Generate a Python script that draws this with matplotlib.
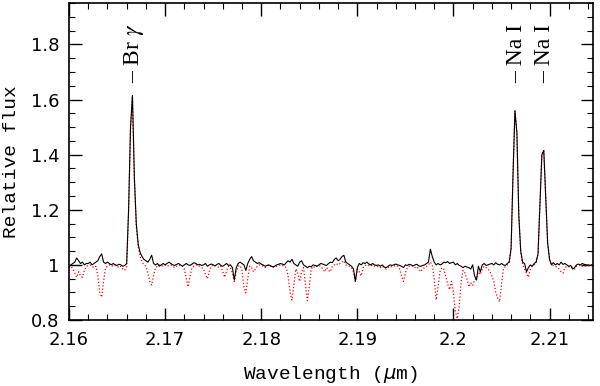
import numpy as np
import matplotlib
matplotlib.use('Agg')
import matplotlib.pyplot as plt
from matplotlib.ticker import MultipleLocator, FuncFormatter

# wavelength grid (micron), 0.0002 sampling
wl_start = 2.16
wl_step = 0.0002

# observed spectrum (black)
flux_obs = [
    0.995, 1.000, 1.005, 1.010, 1.025, 1.015, 1.005, 1.010, 1.000, 1.005,
    1.005, 1.010, 1.000, 1.005, 1.010, 1.015, 1.030, 1.040, 1.010, 1.005,
    1.010, 1.005, 1.000, 1.005, 1.000, 0.998, 1.002, 1.000, 0.995, 0.998,
    1.005, 1.200, 1.500, 1.615, 1.320, 1.150, 1.075, 1.045, 1.030, 1.020,
    1.015, 1.010, 1.020, 1.035, 1.005, 1.000, 1.005, 0.995, 1.000, 1.005,
    1.000, 1.005, 1.010, 1.005, 1.000, 0.998, 1.002, 1.005, 1.000, 0.995,
    1.000, 1.005, 1.000, 0.998, 1.003, 1.008, 1.005, 1.000, 1.002, 0.998,
    1.000, 1.005, 0.995, 1.000, 1.003, 1.000, 0.996, 1.002, 1.005, 0.998,
    0.995, 1.000, 1.005, 0.998, 1.000, 0.990, 0.945, 0.990, 1.005, 1.010,
    1.005, 1.000, 0.980, 1.005, 1.020, 1.030, 1.015, 1.010, 1.005, 1.008,
    1.003, 1.000, 0.995, 0.998, 1.000, 0.996, 0.993, 0.995, 1.000, 1.002,
    1.005, 1.003, 1.000, 1.008, 1.015, 1.010, 1.020, 1.005, 1.000, 0.995,
    1.010, 1.015, 1.000, 0.995, 0.990, 0.995, 0.993, 1.000, 0.998, 0.995,
    1.000, 1.005, 1.003, 1.000, 0.998, 1.005, 1.010, 1.008, 1.020, 1.025,
    1.015, 1.020, 1.030, 1.035, 1.010, 1.005, 1.000, 0.995, 0.985, 0.940,
    0.990, 1.005, 1.000, 1.008, 1.005, 1.010, 1.003, 1.000, 1.005, 1.000,
    0.998, 1.000, 0.995, 1.000, 0.992, 0.990, 0.995, 1.000, 0.998, 1.000,
    1.003, 1.000, 0.998, 0.995, 0.990, 1.000, 0.998, 1.002, 1.000, 0.996,
    1.000, 1.002, 0.996, 0.995, 0.998, 1.000, 1.005, 1.010, 1.057, 1.030,
    1.010, 1.000, 1.005, 1.000, 1.003, 1.010, 1.008, 1.012, 1.005, 1.008,
    1.010, 1.000, 1.005, 0.998, 0.995, 0.990, 0.995, 0.992, 0.990, 0.985,
    1.000, 0.960, 0.945, 0.995, 0.975, 1.000, 1.005, 0.998, 1.000, 1.003,
    1.005, 1.000, 1.008, 1.002, 1.000, 1.005, 1.000, 0.998, 1.005, 1.010,
    1.060, 1.330, 1.560, 1.480, 1.180, 1.050, 1.010, 1.005, 0.975, 0.990,
    1.000, 0.995, 1.005, 1.010, 1.040, 1.220, 1.400, 1.415, 1.250, 1.080,
    1.020, 1.000, 1.008, 1.000, 1.005, 1.000, 1.010, 1.002, 1.005, 1.000,
    0.995, 0.998, 0.985, 0.990, 1.000, 1.003, 1.000, 1.005, 1.002, 1.000,
    1.000, 0.998, 1.000,
]

# comparison spectrum (red dotted)
flux_cmp = [
    0.990, 0.995, 0.985, 0.970, 0.955, 0.975, 0.960, 0.955, 0.980, 0.995,
    0.998, 1.000, 0.995, 0.990, 0.995, 0.960, 0.900, 0.883, 0.940, 0.990,
    0.995, 1.000, 0.998, 0.995, 1.000, 0.995, 0.990, 0.995, 0.985, 0.980,
    0.995, 1.190, 1.490, 1.610, 1.310, 1.140, 1.065, 1.030, 1.010, 1.000,
    0.995, 0.970, 0.940, 0.927, 0.960, 0.990, 0.995, 1.000, 0.995, 0.998,
    1.000, 0.995, 0.998, 1.000, 0.995, 0.990, 0.995, 0.998, 1.000, 0.995,
    0.985, 0.950, 0.920, 0.960, 0.990, 0.995, 1.000, 0.998, 0.995, 0.990,
    0.985, 0.965, 0.950, 0.975, 0.995, 1.000, 0.998, 0.995, 0.990, 0.995,
    0.975, 0.955, 0.980, 0.995, 0.990, 0.970, 0.940, 0.975, 0.995, 0.998,
    0.980, 0.920, 0.898, 0.950, 0.995, 0.990, 0.975, 0.985, 0.995, 1.000,
    0.998, 0.995, 0.990, 0.995, 1.000, 0.995, 0.990, 0.993, 0.995, 0.998,
    1.000, 0.998, 0.995, 0.990, 0.960, 0.900, 0.872, 0.930, 0.985, 0.970,
    0.940, 0.975, 0.990, 0.930, 0.870, 0.920, 0.985, 0.995, 0.990, 0.995,
    0.998, 0.995, 0.985, 0.975, 0.990, 0.980, 0.975, 0.995, 1.000, 1.005,
    1.000, 1.005, 1.010, 1.015, 1.000, 0.998, 0.995, 0.990, 0.975, 0.940,
    0.985, 0.975, 0.960, 0.990, 0.998, 1.000, 0.998, 0.995, 1.000, 0.995,
    0.993, 0.995, 0.990, 0.995, 0.990, 0.985, 0.990, 0.995, 0.993, 0.995,
    0.998, 0.995, 0.985, 0.960, 0.940, 0.970, 0.990, 0.995, 0.998, 0.995,
    0.990, 0.993, 0.985, 0.975, 0.985, 0.990, 0.995, 1.000, 1.010, 1.000,
    0.950, 0.873, 0.920, 0.975, 0.990, 0.985, 0.960, 0.930, 0.910, 0.940,
    0.900, 0.830, 0.805, 0.850, 0.940, 0.980, 0.970, 0.950, 0.920, 0.935,
    0.925, 0.945, 0.950, 0.975, 0.965, 0.985, 0.995, 0.990, 0.985, 0.975,
    0.960, 0.940, 0.900, 0.880, 0.866, 0.930, 0.985, 0.995, 1.000, 1.010,
    1.060, 1.330, 1.560, 1.480, 1.180, 1.050, 1.000, 0.985, 0.970, 0.955,
    0.985, 0.995, 1.000, 1.010, 1.040, 1.220, 1.400, 1.415, 1.250, 1.080,
    1.020, 1.000, 0.998, 0.995, 0.990, 0.985, 0.975, 0.970, 0.990, 0.995,
    0.993, 0.995, 0.990, 0.985, 0.995, 0.998, 1.000, 0.995, 0.998, 0.995,
    0.998, 0.995, 1.000,
]

# line identifications
line_names = ['Br $\\gamma$', 'Na I', 'Na I']
line_wl = [2.1668, 2.2066, 2.2095]

wl = wl_start + wl_step * np.arange(len(flux_obs))

fig = plt.figure(figsize=(6.0, 3.86), dpi=100)
ax = fig.add_axes([0.115, 0.171, 0.873, 0.821])

ax.plot(wl, flux_cmp, color='red', linestyle=':', linewidth=0.9)
ax.plot(wl, flux_obs, color='black', linestyle='-', linewidth=0.8)

for name, w in zip(line_names, line_wl):
    ax.text(w, 1.66, '\u2013 ' + name, rotation=90, ha='center', va='bottom',
            fontsize=17, family='Liberation Serif', math_fontfamily='stix')

ax.set_xlim(2.16, 2.2145)
ax.set_ylim(0.8, 1.95)
ax.xaxis.set_major_locator(MultipleLocator(0.01))
ax.xaxis.set_minor_locator(MultipleLocator(0.002))
ax.yaxis.set_major_locator(MultipleLocator(0.2))
ax.yaxis.set_minor_locator(MultipleLocator(0.05))
fmt = FuncFormatter(lambda v, p: '%g' % round(v, 3))
ax.xaxis.set_major_formatter(fmt)
ax.yaxis.set_major_formatter(fmt)
ax.tick_params(which='both', direction='in', top=True, right=True, labelsize=13)
ax.tick_params(which='major', length=9, width=1)
ax.tick_params(which='minor', length=4.5, width=0.8)
ax.tick_params(axis='x', which='major', pad=8)
ax.tick_params(axis='y', which='major', pad=7)
for s in ax.spines.values():
    s.set_linewidth(1.2)

ax.set_xlabel('Wavelength ($\\mu$m)', fontsize=14, family='Liberation Mono', labelpad=11)
ax.set_ylabel('Relative flux', fontsize=14, family='Liberation Mono', labelpad=8)

fig.savefig('out.png', dpi=100)
